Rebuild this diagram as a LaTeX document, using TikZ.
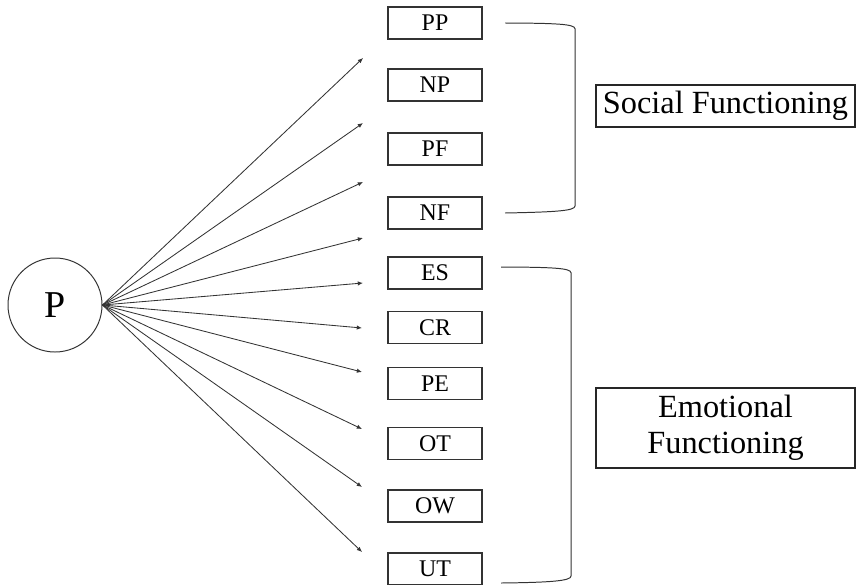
\documentclass[tikz,border=0pt]{standalone}
\usepackage{fontspec}
\setmainfont{Liberation Serif}
\usetikzlibrary{arrows.meta, positioning, calc}
\tikzset{
    itembox/.style={rectangle, draw=black!80, line width=0.8pt, minimum width=2.35cm,
                    minimum height=0.8cm, inner sep=0pt, align=center, font=\fontsize{17}{20}\selectfont},
    groupbox/.style={rectangle, draw=black!85, line width=0.8pt, minimum width=6.475cm,
                     inner sep=0pt, align=center, font=\fontsize{23}{25.6}\selectfont},
    rootnode/.style={circle, draw=black!80, line width=0.7pt, minimum size=2.35cm,
                     inner sep=0pt, font=\fontsize{27}{30}\selectfont},
    arrow/.style={-{Latex[length=1.3mm, width=1.1mm]}, line width=0.6pt, black!80},
    bracket/.style={line width=0.7pt, black!80},
}
\begin{document}
\begin{tikzpicture}
            \useasboundingbox (0,0) rectangle (21.4,-14.6);
            \node[rootnode] (p) at (1.375, -7.625) {P};

            \node[itembox] (pp) at (10.875, -0.575) {PP};
            \node[itembox] (np) at (10.875, -2.125) {NP};
            \node[itembox] (pf) at (10.875, -3.725) {PF};
            \node[itembox] (nf) at (10.875, -5.325) {NF};
            \node[itembox] (es) at (10.875, -6.825) {ES};
            \node[itembox] (cr) at (10.875, -8.19) {CR};
            \node[itembox] (pe) at (10.875, -9.59) {PE};
            \node[itembox] (ot) at (10.875, -11.09) {OT};
            \node[itembox] (ow) at (10.875, -12.65) {OW};
            \node[itembox] (ut) at (10.875, -14.225) {UT};

            % free ends of the arrows, left of the boxes
            \coordinate (e1) at (9.075, -1.45);
            \coordinate (e2) at (9.075, -3.075);
            \coordinate (e3) at (9.075, -4.55);
            \coordinate (e4) at (9.075, -5.95);
            \coordinate (e5) at (9.075, -7.075);
            \coordinate (e6) at (9.05, -8.2);
            \coordinate (e7) at (9.05, -9.3);
            \coordinate (e8) at (9.05, -10.725);
            \coordinate (e9) at (9.05, -12.175);
            \coordinate (e10) at (9.05, -13.8);

            \draw[arrow] (p.east) -- (e1);
            \draw[arrow] (p.east) -- (e2);
            \draw[arrow] (p.east) -- (e3);
            \draw[arrow] (p.east) -- (e4);
            \draw[arrow] (p.east) -- (e5);
            \draw[arrow] (p.east) -- (e6);
            \draw[arrow] (p.east) -- (e7);
            \draw[arrow] (p.east) -- (e8);
            \draw[arrow] (p.east) -- (e9);
            \draw[arrow] (p.east) -- (e10);

            % brackets
            \coordinate (sftop) at (12.625, -0.575);
            \coordinate (sfbot) at (12.625, -5.325);
            \coordinate (eftop) at (12.525, -6.675);
            \coordinate (efbot) at (12.525, -14.575);
            \draw[bracket] (sftop) .. controls (13.9, -0.58) and (14.375, -0.6) .. (14.375, -0.72)
                -- (14.375, -5.15) .. controls (14.375, -5.27) and (13.9, -5.3) .. (sfbot);
            \draw[bracket] (eftop) .. controls (13.8, -6.68) and (14.275, -6.7) .. (14.275, -6.82)
                -- (14.275, -14.4) .. controls (14.275, -14.52) and (13.8, -14.56) .. (efbot);

            \node[groupbox, minimum height=1.05cm] (social) at (18.1375, -2.65) {Social Functioning};
            \node[groupbox, minimum height=2.0cm] (emotional) at (18.1375, -10.7) {Emotional\\Functioning};
        \end{tikzpicture}
\end{document}
